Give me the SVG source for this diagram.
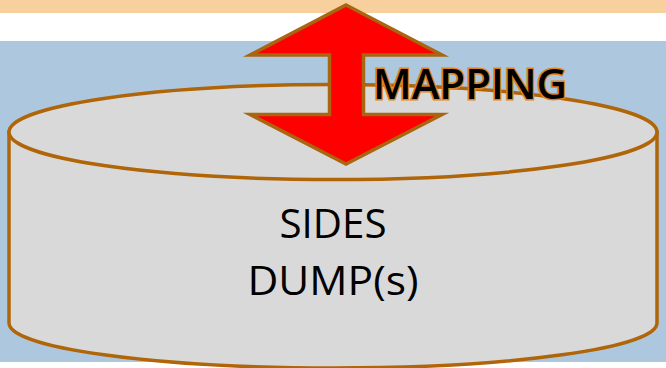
<svg xmlns="http://www.w3.org/2000/svg" width="666" height="368" viewBox="0 0 666 368">
<style>
.ln{stroke:#b06508;stroke-width:3.500;fill:#d9d9d9}
.t{font-family:"Open Sans","Liberation Sans",sans-serif;fill:#000}
</style>
<rect width="666" height="368" fill="#fff"/>
<rect id="top-band" x="0" y="0" width="666" height="13" fill="#f8d09d"/>
<rect id="bottom-band" x="0" y="41" width="666" height="321" fill="#adc8de"/>
<g id="cylinder">
<path class="ln" d="M9 132V323A324 45 0 0 0 657 323V132Z"/>
<ellipse class="ln" cx="333" cy="132" rx="324" ry="47.500"/>
<text class="t" x="333" y="238" font-size="41" text-anchor="middle" textLength="107" lengthAdjust="spacingAndGlyphs">SIDES</text>
<text class="t" x="333" y="295" font-size="41" text-anchor="middle" textLength="171" lengthAdjust="spacingAndGlyphs">DUMP(s)</text>
</g>
<g id="arrow">
<path d="M346 5L442 55H363.500V114.500H442L346 164L250 114.500H329.500V55H250Z" fill="#f00" stroke="#a9650f" stroke-width="3.500" stroke-miterlimit="10"/>
</g>
<g id="mapping">
<text class="t" x="373" y="98.500" font-size="41" font-weight="600" textLength="194" lengthAdjust="spacingAndGlyphs" stroke="#e08420" stroke-width="3" paint-order="stroke">MAPPING</text>
</g>
</svg>
